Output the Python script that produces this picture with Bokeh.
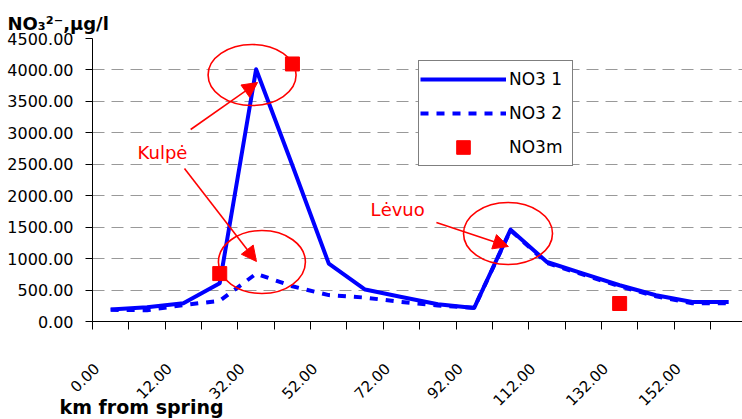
import math
from bokeh.plotting import figure
from bokeh.models import (FixedTicker, NumeralTickFormatter, Legend, LegendItem,
                          Label, Arrow, NormalHead, Range1d, Title)
from bokeh.embed import file_html
from bokeh.resources import INLINE

# ---- data ----
km_labels = ["0.00", "12.00", "32.00", "52.00", "72.00", "92.00", "112.00", "132.00", "152.00"]
no3_1 = [190, 225, 290, 610, 4010, 2480, 920, 508, 390, 275, 216, 1460, 946, 760, 576, 417, 311, 311]
no3_2 = [185, 180, 260, 330, 760, 560, 420, 380, 310, 255, 216, 1450, 930, 745, 560, 400, 290, 290]
nan = float("nan")
no3m = [nan, nan, nan, 762, nan, 4095, nan, nan, nan, nan, nan, nan, nan, nan, 286, nan, nan, nan]
y_ticks = [0, 500, 1000, 1500, 2000, 2500, 3000, 3500, 4000, 4500]

STEP = 10  # x units per category
xs = [i * STEP for i in range(len(no3_1))]
label_x = [i * 2 * STEP - 4 for i in range(len(km_labels))]
minor_x = [k * STEP - 5 for k in range(len(no3_1) + 1)]

FONT = "DejaVu Sans"
BLUE = "#0000FF"
RED = "#FF0000"

p = figure(width=742, height=419, output_backend="svg", toolbar_location=None,
           title="NO\u2083\u00b2\u207b,\u00b5g/l",
           x_range=Range1d(-5, 173.8), y_range=Range1d(0, 4500),
           min_border_left=92, min_border_right=0, min_border_top=38, min_border_bottom=98)
p.outline_line_color = None
p.background_fill_color = "white"
p.border_fill_color = "white"

p.title.align = "left"
p.title.offset = -85
p.title.text_font = FONT
p.title.text_font_size = "18px"
p.title.text_font_style = "bold"
p.title.text_color = "black"

p.xgrid.visible = False
p.ygrid.grid_line_color = "#999999"
p.ygrid.grid_line_dash = "12 7"
p.ygrid.grid_line_width = 1

# y axis
ya = p.yaxis[0]
ya.ticker = FixedTicker(ticks=y_ticks)
ya.formatter = NumeralTickFormatter(format="0.00")
ya.major_tick_out = 7
ya.major_tick_in = 0
ya.minor_tick_out = 0
ya.minor_tick_in = 0
ya.major_label_standoff = 12
ya.major_label_text_font = FONT
ya.major_label_text_font_size = "16px"
ya.major_label_text_color = "black"
ya.axis_line_color = "black"
ya.major_tick_line_color = "black"

# x axis
xa = p.xaxis[0]
xa.ticker = FixedTicker(ticks=label_x, minor_ticks=minor_x)
xa.major_label_overrides = {x: lab for x, lab in zip(label_x, km_labels)}
xa.major_tick_out = 0
xa.major_tick_in = 0
xa.minor_tick_out = 8
xa.minor_tick_in = 0
xa.minor_tick_line_color = "black"
xa.major_label_orientation = math.pi / 4
xa.major_label_standoff = 36
xa.major_label_text_font = FONT
xa.major_label_text_font_size = "15px"
xa.major_label_text_color = "black"
xa.axis_line_color = "black"

# x axis title, as a Title below the axis (pulled up with a negative standoff)
p.add_layout(Title(text="km from spring", align="left", vertical_align="top",
                   offset=-33, standoff=-37,
                   text_font=FONT, text_font_size="19px", text_font_style="bold",
                   text_color="black"), "below")

# series
r1 = p.line(xs, no3_1, line_color=BLUE, line_width=4, line_join="round")
r2 = p.line(xs, no3_2, line_color=BLUE, line_width=4, line_dash="8 8")
r3 = p.scatter(xs, no3m, marker="square", size=14, fill_color=RED, line_color=RED)

# annotations: ellipses, arrows, texts
p.ellipse(x=[38.9, 41.6, 109.3], y=[3920, 946, 1399], width=[88, 87, 89], height=[61, 63, 62],
          width_units="screen", height_units="screen",
          fill_color=None, line_color=RED, line_width=1.6)

for (xs0, ys0, xe, ye) in [(22.0, 3053, 40.4, 3800), (20.3, 2433, 40.1, 954), (89.6, 1574, 109.4, 1193)]:
    p.add_layout(Arrow(end=NormalHead(size=15, fill_color=RED, line_color=RED),
                       x_start=xs0, y_start=ys0, x_end=xe, y_end=ye,
                       line_color=RED, line_width=1.6))

for txt, x, y in [("Kulpė", 7.4, 2687), ("Lėvuo", 71.5, 1781)]:
    p.add_layout(Label(x=x, y=y, text=txt, text_color=RED, text_font=FONT,
                       text_font_size="18px", text_baseline="alphabetic"))

legend = Legend(items=[LegendItem(label="NO3 1", renderers=[r1]),
                       LegendItem(label="NO3 2", renderers=[r2]),
                       LegendItem(label="NO3m", renderers=[r3])],
                location=(326, 155), orientation="vertical",
                glyph_width=86, glyph_height=34, spacing=0, padding=1,
                label_standoff=3, label_width=62,
                label_text_font=FONT, label_text_font_size="17px", label_text_color="black",
                border_line_color="black", border_line_width=1,
                background_fill_color="white", background_fill_alpha=1.0, margin=0)
p.add_layout(legend)

open("out.html", "w").write(file_html(p, INLINE))
